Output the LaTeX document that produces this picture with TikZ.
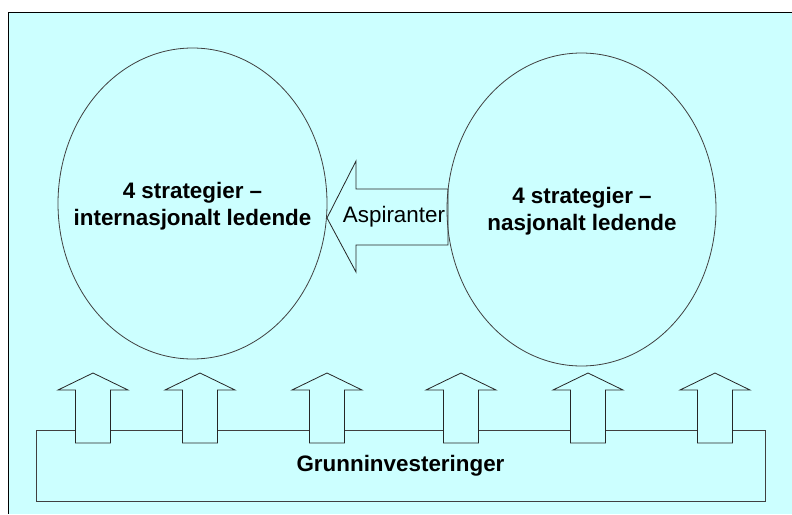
\documentclass[tikz,border=0pt]{standalone}
\usepackage{fontspec}
\setmainfont{Liberation Sans}
\usetikzlibrary{shapes.geometric}
\definecolor{bgcyan}{RGB}{204,255,255}
\begin{document}
\begin{tikzpicture}[x=1pt,y=-1pt,line width=0.8pt,
  bubble/.style={ellipse,draw=black!75,minimum width=269pt,inner sep=0pt},
  txt/.style={font=\fontsize{22.4}{27}\selectfont\bfseries,align=center},
  blockarrow/.style={draw=black!85,fill=bgcyan,line join=miter}]
\useasboundingbox (0,0) rectangle (792,514);
\fill[white] (0,0) rectangle (792,514);
\fill[bgcyan] (8,12) rectangle (792,514);
\draw[black,line width=1pt] (792,12) -- (8,12) -- (8,514);
\node[draw=black!75,minimum width=729pt,minimum height=71pt,inner sep=0pt,txt] (base) at (400.5,465.5) {Grunninvesteringer};
\foreach \x in {93,200,327,461,588,715} {
  \draw[blockarrow] (\x-17.5,443) -- (\x-17.5,390) -- (\x-35,390) -- (\x,373)
     -- (\x+35,390) -- (\x+17.5,390) -- (\x+17.5,443) -- cycle;
}
\draw[blockarrow] (448,189) -- (356,189) -- (356,161) -- (327,218) -- (356,272)
   -- (356,245) -- (448,245) -- cycle;
\node[font=\fontsize{22.4}{26}\selectfont] (asp) at (394,217) {Aspiranter};
\node[bubble,minimum height=311pt] (intl) at (192.5,203.5) {};
\node[bubble,minimum height=313pt] (nat) at (581.5,209.5) {};
\node[txt] (intltxt) at (192.5,206) {4 strategier --\\internasjonalt ledende};
\node[txt] (nattxt) at (582,211) {4 strategier --\\nasjonalt ledende};
\end{tikzpicture}
\end{document}
